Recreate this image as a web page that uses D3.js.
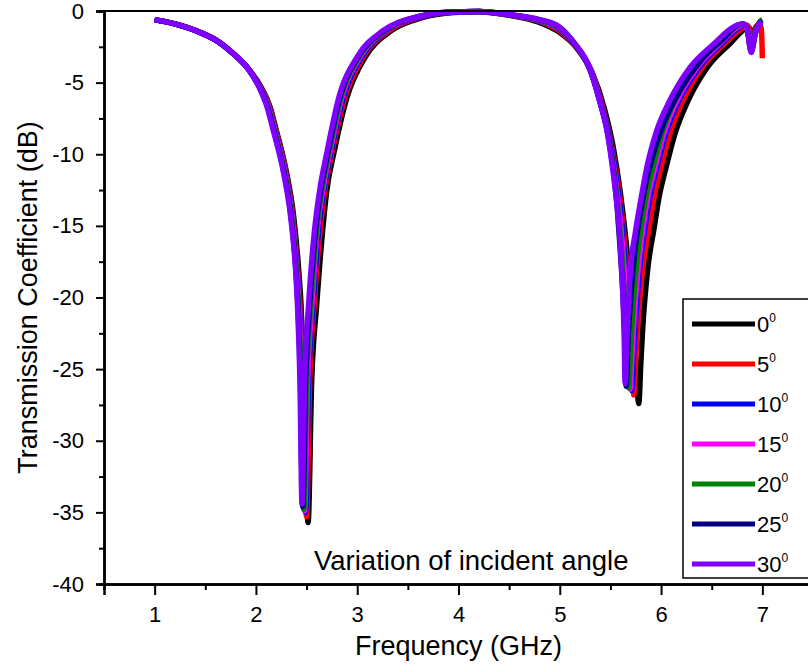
<!DOCTYPE html>
<html lang="en">
<head>
<meta charset="utf-8">
<title>Transmission Coefficient vs Frequency</title>
<script src="https://d3js.org/d3.v7.min.js"></script>
<style>
  body { margin: 0; background: #fff; }
  text { font-family: "Liberation Sans", Arial, sans-serif; fill: #000; }
</style>
</head>
<body>
<svg id="chart" width="808" height="664"></svg>
<script>
// angle labels and line colours
const angles = ["0", "5", "10", "15", "20", "25", "30"];
const colors = ["#000000", "#ff0000", "#0000ff", "#ff00ff", "#008000", "#000080", "#8000ff"];

const xTicks = [1, 2, 3, 4, 5, 6, 7];
const yTicks = [0, -5, -10, -15, -20, -25, -30, -35, -40];

// [frequency GHz, dB]
const s0 = [[1.0,-0.6],[1.2,-0.9],[1.45,-1.5],[1.62,-2.1],[1.78,-3.0],[1.92,-4.0],[2.05,-5.3],[2.14,-6.7],[2.2,-8.3],[2.3,-11.2],[2.37,-14.2],[2.42,-17.9],[2.445,-20.5],[2.475,-25.9],[2.515,-35.7],[2.55,-25.9],[2.6,-20.5],[2.66,-15.2],[2.7,-12.5],[2.77,-9.9],[2.9,-6.0],[3.08,-3.2],[3.33,-1.4],[3.65,-0.45],[3.95,-0.1],[4.2,-0.05],[4.5,-0.3],[4.8,-0.8],[5.0,-1.5],[5.17,-2.6],[5.32,-4.3],[5.44,-6.8],[5.53,-9.6],[5.6,-12.8],[5.65,-15.8],[5.69,-18.8],[5.72,-21.8],[5.75,-24.6],[5.78,-27.4],[5.8,-24.6],[5.82,-22.0],[5.87,-17.9],[5.93,-15.2],[5.98,-13.0],[6.05,-10.9],[6.14,-8.5],[6.27,-6.2],[6.46,-3.9],[6.69,-2.2],[6.8,-1.4],[6.86,-1.1],[6.9,-1.5],[6.94,-1.1],[7.0,-0.9]];
const s5 = [[1.0,-0.6],[1.2,-0.9],[1.45,-1.5],[1.62,-2.1],[1.78,-3.0],[1.92,-4.0],[2.045,-5.3],[2.135,-6.7],[2.195,-8.3],[2.295,-11.2],[2.362,-14.2],[2.41,-17.9],[2.435,-20.5],[2.465,-25.9],[2.5,-35.3],[2.53,-25.9],[2.575,-20.5],[2.635,-15.2],[2.68,-12.5],[2.75,-9.9],[2.88,-6.0],[3.06,-3.2],[3.31,-1.4],[3.63,-0.43],[3.93,-0.09],[4.2,-0.04],[4.5,-0.28],[4.8,-0.72],[5.0,-1.4],[5.16,-2.5],[5.31,-4.2],[5.42,-6.6],[5.51,-9.3],[5.58,-12.3],[5.63,-15.4],[5.67,-18.6],[5.7,-21.6],[5.715,-24.2],[5.73,-26.8],[5.75,-24.2],[5.77,-21.8],[5.82,-17.9],[5.88,-15.2],[5.93,-13.0],[6.0,-10.9],[6.09,-8.5],[6.22,-6.2],[6.41,-3.9],[6.64,-2.2],[6.78,-1.3],[6.85,-1.0],[6.9,-1.8],[6.95,-1.0],[6.99,-1.2],[7.0,-3.3]];
const s10 = [[1.0,-0.6],[1.2,-0.9],[1.45,-1.5],[1.62,-2.1],[1.78,-3.0],[1.92,-4.0],[2.04,-5.3],[2.13,-6.7],[2.19,-8.3],[2.29,-11.2],[2.357,-14.2],[2.405,-17.9],[2.43,-20.5],[2.458,-25.9],[2.49,-35.0],[2.52,-25.9],[2.565,-20.5],[2.62,-15.2],[2.67,-12.5],[2.74,-9.9],[2.865,-6.0],[3.045,-3.2],[3.29,-1.4],[3.62,-0.42],[3.92,-0.09],[4.2,-0.04],[4.5,-0.27],[4.8,-0.7],[5.0,-1.3],[5.16,-2.45],[5.3,-4.1],[5.41,-6.5],[5.5,-9.1],[5.565,-12.0],[5.615,-15.0],[5.65,-18.2],[5.675,-21.3],[5.695,-24.0],[5.71,-26.5],[5.73,-24.0],[5.75,-21.5],[5.79,-17.9],[5.84,-15.2],[5.89,-13.0],[5.96,-10.9],[6.05,-8.5],[6.18,-6.2],[6.38,-3.9],[6.61,-2.2],[6.76,-1.2],[6.82,-0.95],[6.86,-1.4],[6.89,-2.5],[6.93,-1.4],[6.97,-0.9],[7.0,-0.8]];
const s15 = [[1.0,-0.6],[1.2,-0.9],[1.45,-1.5],[1.62,-2.1],[1.78,-3.0],[1.92,-4.0],[2.038,-5.3],[2.125,-6.7],[2.185,-8.3],[2.285,-11.2],[2.353,-14.2],[2.4,-17.9],[2.425,-20.5],[2.452,-25.9],[2.48,-34.9],[2.51,-25.9],[2.553,-20.5],[2.607,-15.2],[2.66,-12.5],[2.73,-9.9],[2.85,-6.0],[3.03,-3.2],[3.28,-1.4],[3.61,-0.41],[3.91,-0.09],[4.2,-0.04],[4.5,-0.27],[4.8,-0.68],[5.0,-1.25],[5.16,-2.4],[5.3,-4.05],[5.405,-6.45],[5.49,-9.0],[5.55,-11.8],[5.6,-14.8],[5.635,-17.9],[5.66,-21.0],[5.68,-23.8],[5.695,-26.4],[5.715,-23.8],[5.735,-21.3],[5.775,-17.9],[5.82,-15.2],[5.87,-13.0],[5.94,-10.9],[6.03,-8.5],[6.16,-6.2],[6.36,-3.9],[6.59,-2.2],[6.75,-1.15],[6.82,-0.92],[6.86,-1.4],[6.89,-2.6],[6.93,-1.5],[6.97,-0.9],[7.0,-0.75]];
const s20 = [[1.0,-0.6],[1.2,-0.9],[1.45,-1.5],[1.62,-2.1],[1.78,-3.0],[1.92,-4.0],[2.036,-5.3],[2.12,-6.7],[2.18,-8.3],[2.28,-11.2],[2.35,-14.2],[2.397,-17.9],[2.42,-20.5],[2.447,-25.9],[2.472,-34.8],[2.5,-25.9],[2.542,-20.5],[2.6,-15.2],[2.65,-12.5],[2.72,-9.9],[2.84,-6.0],[3.02,-3.2],[3.27,-1.4],[3.6,-0.41],[3.9,-0.09],[4.2,-0.04],[4.5,-0.26],[4.8,-0.66],[5.0,-1.2],[5.155,-2.38],[5.295,-4.0],[5.4,-6.4],[5.485,-8.8],[5.54,-11.5],[5.585,-14.5],[5.62,-17.7],[5.645,-20.8],[5.665,-23.6],[5.68,-26.3],[5.7,-23.5],[5.72,-21.0],[5.755,-17.9],[5.8,-15.2],[5.85,-13.0],[5.92,-10.9],[6.01,-8.5],[6.14,-6.2],[6.33,-3.9],[6.57,-2.2],[6.74,-1.1],[6.81,-0.9],[6.85,-1.3],[6.89,-2.7],[6.93,-1.5],[6.97,-0.8],[7.0,-0.6]];
const s25 = [[1.0,-0.6],[1.2,-0.9],[1.45,-1.5],[1.62,-2.1],[1.78,-3.0],[1.92,-4.0],[2.033,-5.3],[2.115,-6.7],[2.175,-8.3],[2.275,-11.2],[2.345,-14.2],[2.393,-17.9],[2.415,-20.5],[2.44,-25.9],[2.462,-34.6],[2.49,-25.9],[2.53,-20.5],[2.59,-15.2],[2.64,-12.5],[2.71,-9.9],[2.83,-6.0],[3.01,-3.2],[3.26,-1.4],[3.6,-0.4],[3.9,-0.08],[4.2,-0.03],[4.5,-0.25],[4.8,-0.62],[5.0,-1.15],[5.15,-2.33],[5.29,-3.95],[5.395,-6.3],[5.475,-8.6],[5.53,-11.2],[5.57,-14.0],[5.6,-17.0],[5.625,-20.0],[5.642,-22.8],[5.655,-26.2],[5.675,-22.8],[5.705,-19.5],[5.74,-16.8],[5.79,-14.3],[5.85,-12.0],[5.93,-9.8],[6.04,-7.6],[6.2,-5.4],[6.4,-3.4],[6.62,-1.9],[6.75,-1.0],[6.81,-0.9],[6.85,-1.3],[6.89,-2.8],[6.93,-1.6],[6.97,-0.85],[7.0,-0.7]];
const s30 = [[1.0,-0.6],[1.2,-0.9],[1.45,-1.5],[1.62,-2.1],[1.78,-3.0],[1.92,-4.0],[2.03,-5.3],[2.11,-6.7],[2.17,-8.3],[2.27,-11.2],[2.34,-14.2],[2.39,-17.9],[2.41,-20.5],[2.435,-25.9],[2.455,-34.4],[2.48,-25.9],[2.52,-20.5],[2.58,-15.2],[2.63,-12.5],[2.7,-9.9],[2.82,-6.0],[3.0,-3.2],[3.25,-1.4],[3.6,-0.4],[3.9,-0.08],[4.2,-0.03],[4.5,-0.25],[4.8,-0.6],[4.99,-1.1],[5.15,-2.3],[5.29,-3.9],[5.39,-6.2],[5.47,-8.5],[5.52,-10.9],[5.56,-13.2],[5.59,-15.5],[5.61,-17.9],[5.625,-20.2],[5.635,-22.5],[5.645,-26.0],[5.665,-22.5],[5.7,-17.9],[5.745,-15.5],[5.8,-13.2],[5.86,-10.9],[5.95,-8.5],[6.09,-6.2],[6.29,-3.9],[6.52,-2.3],[6.72,-1.1],[6.8,-0.9],[6.85,-1.3],[6.89,-2.9],[6.93,-1.6],[6.97,-0.9],[7.0,-0.75]];

const series = [s0, s5, s10, s15, s20, s25, s30];

const svg = d3.select("#chart");

const x = d3.scaleLinear().domain([0.5, 7.5]).range([104, 813]);
const y = d3.scaleLinear().domain([-40, 0]).range([584, 11]);

// curves, 0 deg underneath, 30 deg on top
const line = d3.line()
    .x(d => x(d[0]))
    .y(d => y(d[1]))
    .curve(d3.curveMonotoneX);

svg.append("g")
  .selectAll("path")
  .data(series)
  .join("path")
    .attr("d", line)
    .attr("fill", "none")
    .attr("stroke", (d, i) => colors[i])
    .attr("stroke-width", 5.5)
    .attr("stroke-linejoin", "round");

// frame
svg.append("line")
    .attr("x1", x(0.5)).attr("x2", x(7.5))
    .attr("y1", y(0)).attr("y2", y(0))
    .attr("stroke", "#000").attr("stroke-width", 2);

// axes
const fmt = d => String(d);

const xAxis = svg.append("g")
    .attr("transform", `translate(0,${y(-40)})`)
    .call(d3.axisBottom(x).tickValues(xTicks).tickSize(11).tickPadding(11).tickFormat(fmt));
const xMinor = svg.append("g")
    .attr("transform", `translate(0,${y(-40)})`)
    .call(d3.axisBottom(x).tickValues([1.5, 2.5, 3.5, 4.5, 5.5, 6.5, 7.5]).tickSize(6).tickFormat(""));

const yAxis = svg.append("g")
    .attr("transform", `translate(${x(0.5)},0)`)
    .call(d3.axisLeft(y).tickValues(yTicks).tickSize(8).tickPadding(12).tickFormat(fmt));
const yMinor = svg.append("g")
    .attr("transform", `translate(${x(0.5)},0)`)
    .call(d3.axisLeft(y).tickValues([-2.5, -7.5, -12.5, -17.5, -22.5, -27.5, -32.5, -37.5]).tickSize(5).tickFormat(""));

[xAxis, xMinor, yAxis, yMinor].forEach(g => {
  g.select(".domain").attr("stroke-width", 2.5);
  g.selectAll(".tick line").attr("stroke-width", 2);
});
xAxis.selectAll("text").attr("font-size", 22).attr("font-family", "Liberation Sans, Arial, sans-serif");
yAxis.selectAll("text").attr("font-size", 22).attr("font-family", "Liberation Sans, Arial, sans-serif");

// axis titles
svg.append("text")
    .attr("x", x(4))
    .attr("y", 655)
    .attr("text-anchor", "middle")
    .attr("font-size", 27)
    .text("Frequency (GHz)");

svg.append("text")
    .attr("transform", `translate(37,${y(-20)}) rotate(-90)`)
    .attr("text-anchor", "middle")
    .attr("font-size", 27)
    .text("Transmission Coefficient (dB)");

svg.append("text")
    .attr("x", 314)
    .attr("y", 570)
    .attr("font-size", 27.5)
    .text("Variation of incident angle");

// legend
const legend = svg.append("g").attr("transform", "translate(683,299)");
legend.append("rect")
    .attr("width", 150).attr("height", 279)
    .attr("fill", "#fff").attr("stroke", "#000").attr("stroke-width", 1.5);

const item = legend.selectAll("g.item")
  .data(angles)
  .join("g")
    .attr("class", "item")
    .attr("transform", (d, i) => `translate(0,${25 + i * 40})`);

item.append("line")
    .attr("x1", 9).attr("x2", 72)
    .attr("stroke", (d, i) => colors[i])
    .attr("stroke-width", 5);

const lbl = item.append("text")
    .attr("x", 74)
    .attr("y", 8)
    .attr("font-size", 22);
lbl.append("tspan").text(d => d);
lbl.append("tspan")
    .attr("font-size", 12)
    .attr("dy", -10)
    .text("0");
</script>
</body>
</html>
